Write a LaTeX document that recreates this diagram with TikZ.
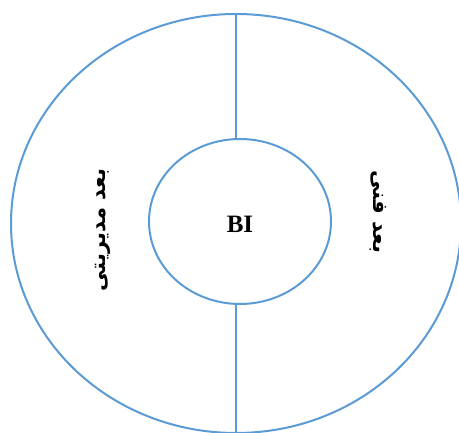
\documentclass[tikz,border=0pt]{standalone}
\usepackage{fontspec}
\setmainfont{Liberation Serif}
\newfontfamily\arabicfont[Script=Arabic]{DejaVu Sans}
\TeXXeTstate=1
\usetikzlibrary{shapes.geometric}
\definecolor{ringblue}{HTML}{5B9BD5}
\tikzset{ring/.style={ellipse, draw=ringblue, line width=2pt, inner sep=0pt},
  conn/.style={draw=ringblue, line width=2pt},
  fatext/.style={font=\arabicfont\bfseries\fontsize{21}{24}\selectfont, inner sep=0pt}}
\begin{document}
\begin{tikzpicture}[x=1pt,y=1pt]
\useasboundingbox (0,0) rectangle (459,433);
\node[ring, minimum width=450pt, minimum height=419pt] (outer) at (236,209.5) {};
\node[ring, minimum width=182pt, minimum height=165pt] (inner) at (240,211.5) {};
\draw[conn] (outer.north) -- (outer.north |- inner.north);
\draw[conn] (outer.south) -- (outer.south |- inner.south);
\node[font=\bfseries\fontsize{25}{28}\selectfont, inner sep=0pt] (bi) at (240,209) {BI};
\node[fatext, rotate=90] (left) at (103,203) {\beginR بعد مدیریتی\endR};
\node[fatext, rotate=-90] (right) at (378,221) {\beginR بعد فنی\endR};
\end{tikzpicture}
\end{document}
